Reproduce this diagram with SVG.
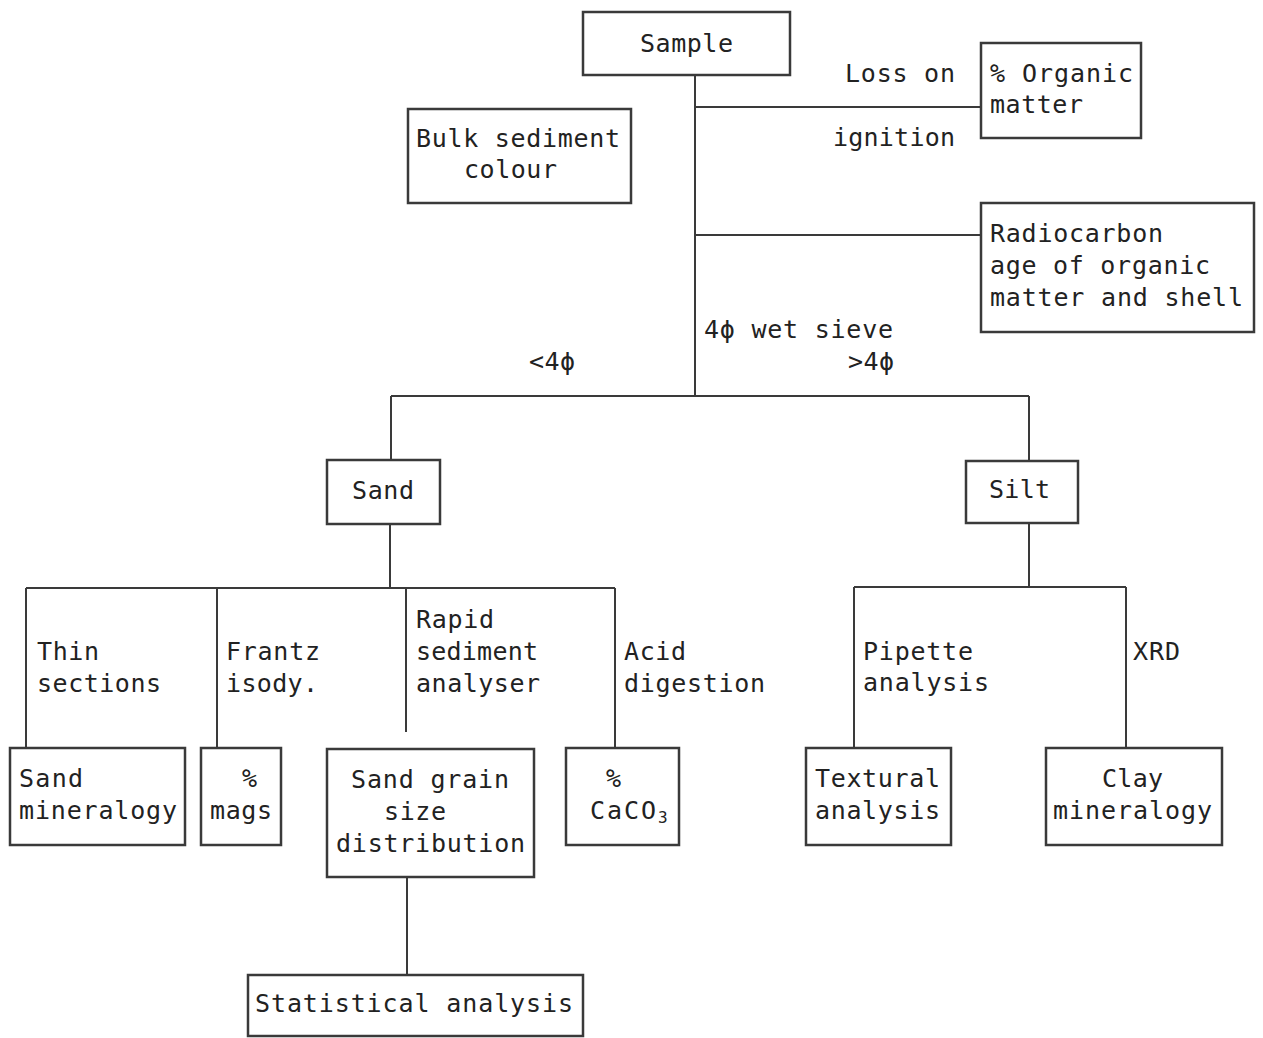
<svg xmlns="http://www.w3.org/2000/svg" width="1263" height="1038" viewBox="0 0 1263 1038">
<style>
.box{fill:#fff;stroke:#3a3a3a;stroke-width:2.5}
.ln{fill:none;stroke:#3a3a3a;stroke-width:2}
text{font-family:"DejaVu Sans Mono","Liberation Mono",monospace;font-size:25px;fill:#222}
.sub{font-size:16px}
</style>
<rect width="1263" height="1038" fill="#fff"/>
<g id="connectors">
<path class="ln" d="M695 75V396M695 107H981M695 235H981M391 396H1029M391 396V460M1029 396V461M390 524V588M26 588H615M26 588V748M217 588V748M406 588V732M615 588V748M407 877V975M1029 523V587M854 587H1126M854 587V748M1126 587V748"/>
</g>
<g id="sample"><rect class="box" x="583" y="12" width="207" height="63"/><text x="640" y="52" textLength="93">Sample</text></g>
<g id="loi-label"><text x="845" y="82" textLength="110">Loss on</text><text x="833" y="146" textLength="122">ignition</text></g>
<g id="organic"><rect class="box" x="981" y="43" width="160" height="95"/><text x="990" y="82" textLength="143">% Organic</text><text x="990" y="113" textLength="93">matter</text></g>
<g id="bulk"><rect class="box" x="408" y="109" width="223" height="94"/><text x="416" y="147" textLength="204">Bulk sediment</text><text x="464" y="178" textLength="93">colour</text></g>
<g id="radiocarbon"><rect class="box" x="981" y="203" width="273" height="129"/><text x="990" y="242" textLength="173">Radiocarbon</text><text x="990" y="274" textLength="220">age of organic</text><text x="990" y="306" textLength="253">matter and shell</text></g>
<g id="sieve-labels"><text x="704" y="338" textLength="189">4ϕ wet sieve</text><text x="529" y="370" textLength="46">&lt;4ϕ</text><text x="848" y="370" textLength="46">&gt;4ϕ</text></g>
<g id="sand"><rect class="box" x="327" y="460" width="113" height="64"/><text x="352" y="499" textLength="62">Sand</text></g>
<g id="silt"><rect class="box" x="966" y="461" width="112" height="62"/><text x="989" y="498" textLength="61">Silt</text></g>
<g id="method-labels">
<text x="37" y="660" textLength="62">Thin</text><text x="37" y="692" textLength="124">sections</text>
<text x="226" y="660" textLength="94">Frantz</text><text x="226" y="692" textLength="92">isody.</text>
<text x="416" y="628" textLength="78">Rapid</text><text x="416" y="660" textLength="122">sediment</text><text x="416" y="692" textLength="124">analyser</text>
<text x="624" y="660" textLength="62">Acid</text><text x="624" y="692" textLength="141">digestion</text>
<text x="863" y="660" textLength="110">Pipette</text><text x="863" y="691" textLength="126">analysis</text>
<text x="1133" y="660" textLength="47">XRD</text>
</g>
<g id="sand-mineralogy"><rect class="box" x="10" y="748" width="175" height="97"/><text x="19" y="787" textLength="64">Sand</text><text x="19" y="819" textLength="158">mineralogy</text></g>
<g id="mags"><rect class="box" x="201" y="748" width="80" height="97"/><text x="242" y="787" textLength="16">%</text><text x="210" y="819" textLength="62">mags</text></g>
<g id="grain-size"><rect class="box" x="327" y="749" width="207" height="128"/><text x="351" y="788" textLength="158">Sand grain</text><text x="384" y="820" textLength="62">size</text><text x="336" y="852" textLength="189">distribution</text></g>
<g id="caco3"><rect class="box" x="566" y="748" width="113" height="97"/><text x="606" y="787" textLength="17">%</text><text x="590" y="819" textLength="66">CaCO</text><text class="sub" x="658" y="823">3</text></g>
<g id="textural"><rect class="box" x="806" y="748" width="145" height="97"/><text x="815" y="787" textLength="125">Textural</text><text x="815" y="819" textLength="125">analysis</text></g>
<g id="clay"><rect class="box" x="1046" y="748" width="176" height="97"/><text x="1102" y="787" textLength="61">Clay</text><text x="1053" y="819" textLength="159">mineralogy</text></g>
<g id="statistical"><rect class="box" x="248" y="975" width="335" height="61"/><text x="255" y="1012" textLength="318">Statistical analysis</text></g>
</svg>
